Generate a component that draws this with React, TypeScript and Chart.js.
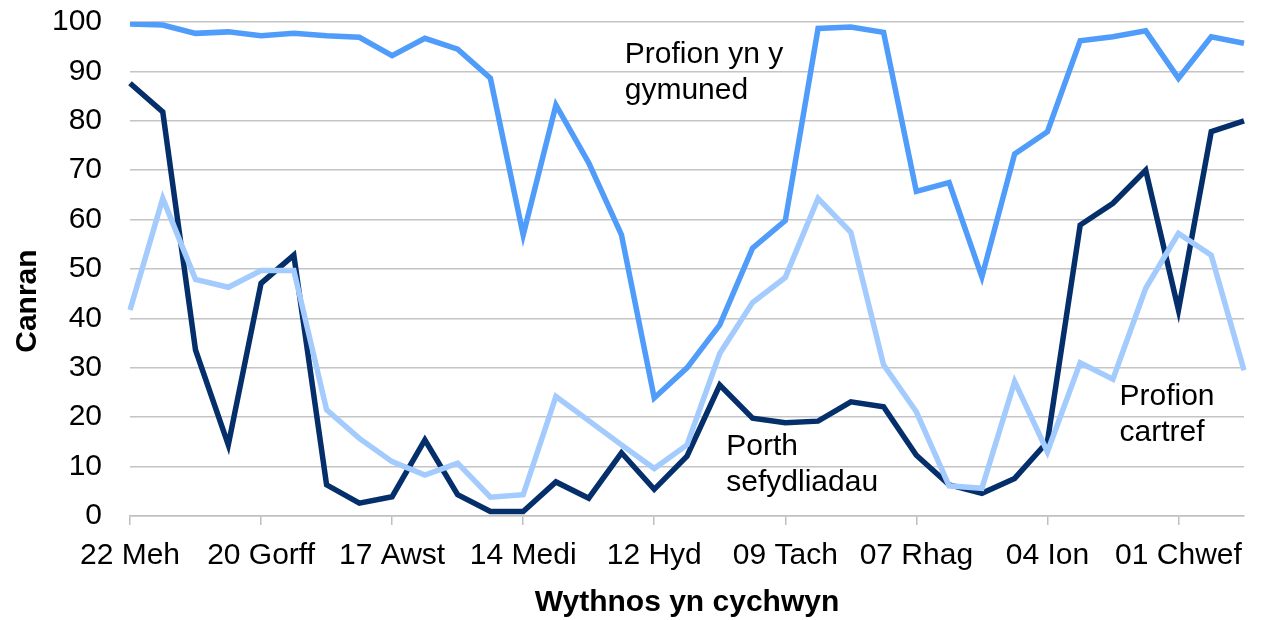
import React, { useEffect, useRef } from 'react';
import { Chart, registerables } from 'chart.js';

Chart.register(...registerables);

const weeks = ['22 Meh','29 Meh','06 Gorff','13 Gorff','20 Gorff','27 Gorff','03 Awst','10 Awst','17 Awst','24 Awst','31 Awst','07 Medi','14 Medi','21 Medi','28 Medi','05 Hyd','12 Hyd','19 Hyd','26 Hyd','02 Tach','09 Tach','16 Tach','23 Tach','30 Tach','07 Rhag','14 Rhag','21 Rhag','28 Rhag','04 Ion','11 Ion','18 Ion','25 Ion','01 Chwef','08 Chwef','15 Chwef'];

const community = [99.6,99.4,97.7,98,97.2,97.7,97.2,96.9,93.2,96.7,94.5,88.6,56.9,83.2,71.5,56.9,23.9,30,38.7,54.2,59.8,98.7,99,97.9,65.7,67.5,48.4,73.3,77.8,96.2,97,98.2,88.6,97,95.7];
const porth = [87.6,81.8,33.6,14.4,47.1,52.8,6.3,2.6,3.9,15.4,4.3,0.9,0.9,6.9,3.6,12.8,5.4,12.1,26.5,19.8,18.9,19.2,23.1,22.1,12.3,6.3,4.6,7.6,15,58.9,63.3,70,41.7,77.8,80];
const home = [41.7,64.3,47.9,46.3,49.7,49.7,21.5,15.7,11,8.3,10.7,3.8,4.3,24.2,19.3,14.4,9.6,14.4,32.9,43.2,48.3,64.3,57.4,30.6,21.1,6.1,5.6,27.2,13,31,27.7,46.1,57.2,52.8,29.5];

const yTitle = 'Canran';
const xTitle = 'Wythnos yn cychwyn';

// annotation: lines, anchor index (x), anchor value (baseline of first line)
const notes = [
  { lines: ['Profion yn y', 'gymuned'], xi: 15.1, v: 91.6 },
  { lines: ['Porth', 'sefydliadau'], xi: 18.2, v: 12.4 },
  { lines: ['Profion', 'cartref'], xi: 30.2, v: 22.5 },
];

const FONT = "'Liberation Sans', Arial, sans-serif";

export default function App() {
  const ref = useRef<HTMLCanvasElement | null>(null);
  useEffect(() => {
    document.body.style.margin = '0';
    const canvas = ref.current!;
    const textPlugin = {
      id: 'texts',
      afterDraw(chart: any) {
        const ctx = chart.ctx;
        const xs = chart.scales.x;
        const ys = chart.scales.y;
        const area = chart.chartArea;
        ctx.save();
        ctx.fillStyle = '#000';
        ctx.font = `30px ${FONT}`;
        ctx.textAlign = 'left';
        ctx.textBaseline = 'alphabetic';
        for (const n of notes) {
          const x = xs.getPixelForValue(n.xi);
          const y = ys.getPixelForValue(n.v);
          n.lines.forEach((l, i) => ctx.fillText(l, x, y + i * 36));
        }
        ctx.font = `bold 30px ${FONT}`;
        ctx.textAlign = 'center';
        ctx.textBaseline = 'middle';
        ctx.fillText(xTitle, (area.left + area.right) / 2, area.bottom + 87);
        ctx.save();
        ctx.translate(28, area.top + (area.bottom - area.top) * 0.565);
        ctx.rotate(-Math.PI / 2);
        ctx.fillText(yTitle, 0, 0);
        ctx.restore();
        ctx.restore();
      },
    };
    const chart = new Chart(canvas, {
      type: 'line',
      data: {
        labels: weeks,
        datasets: [
          { label: 'Profion cartref', data: home, borderColor: '#A3CBFD', backgroundColor: '#A3CBFD', borderWidth: 5.5, pointRadius: 0, tension: 0 },
          { label: 'Profion yn y gymuned', data: community, borderColor: '#4F9CFA', backgroundColor: '#4F9CFA', borderWidth: 5.5, pointRadius: 0, tension: 0 },
          { label: 'Porth sefydliadau', data: porth, borderColor: '#052F6B', backgroundColor: '#052F6B', borderWidth: 5.5, pointRadius: 0, tension: 0 },
        ],
      },
      options: {
        responsive: false,
        animation: false,
        layout: { padding: { top: 22, right: 17, left: 0, bottom: 0 } },
        plugins: { legend: { display: false }, tooltip: { enabled: false } },
        scales: {
          x: {
            offset: false,
            afterFit: (s: any) => { s.height = 104; s.paddingLeft = 0; s.paddingRight = 0; },
            grid: { drawOnChartArea: false, drawTicks: true, tickLength: 9, color: '#BFBFBF', lineWidth: 1.5 },
            border: { display: true, color: '#BFBFBF', width: 1.5 },
            ticks: {
              autoSkip: false,
              maxRotation: 0,
              minRotation: 0,
              padding: 13,
              color: '#000',
              font: { family: FONT, size: 30 },
              callback: (_v: any, i: number) => (i % 4 === 0 ? weeks[i] : null),
            },
          },
          y: {
            min: 0,
            max: 100,
            afterFit: (s: any) => { s.width = 130; s.paddingTop = 0; s.paddingBottom = 0; },
            grid: { drawTicks: false, color: '#C4C4C4', lineWidth: 1.5 },
            border: { display: false },
            ticks: { stepSize: 10, padding: 28, color: '#000', font: { family: FONT, size: 30 } },
          },
        },
      },
      plugins: [textPlugin],
    });
    return () => chart.destroy();
  }, []);
  return (
    <div style={{ width: 1261, height: 620 }}>
      <canvas ref={ref} width={1261} height={620} style={{ display: 'block' }} />
    </div>
  );
}
